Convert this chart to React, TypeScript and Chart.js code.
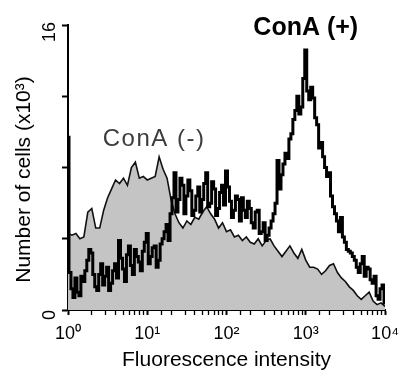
import { useEffect, useRef } from 'react';
import { Chart, registerables } from 'chart.js';

Chart.register(...registerables);

// Channel bin widths, in decades of fluorescence intensity
const BIN_STEP_PLUS = 0.025;
const BIN_STEP_MINUS = 0.05;

// ConA (+) histogram counts (x10^3), one per channel bin from 10^0 to 10^4
const conAPlus = [
  9.7, 2.1, 1.2, 0.7, 1.8, 1.0, 0.8, 1.9, 1.6, 2.2,
  2.8, 3.4, 3.2, 2.0, 1.3, 1.1, 2.0, 2.6, 1.4, 1.9,
  2.4, 1.1, 1.5, 2.2, 2.6, 1.8, 3.9, 2.9, 2.3, 1.6,
  3.1, 3.6, 2.5, 2.0, 3.4, 3.0, 2.7, 2.2, 3.3, 3.8,
  4.3, 2.6, 3.0, 3.5, 3.6, 2.4, 2.8, 3.7, 4.0, 4.4,
  4.8, 3.9, 5.4, 6.3, 7.7, 5.5, 6.2, 7.4, 7.0, 5.4,
  6.4, 7.3, 6.7, 5.3, 5.6, 6.4, 6.9, 5.5, 6.2, 7.1,
  7.7, 5.8, 6.0, 7.2, 6.8, 5.3, 5.7, 6.6, 7.0, 5.9,
  7.8, 6.9, 6.1, 5.2, 5.6, 6.4, 6.2, 5.0, 6.3, 5.6,
  5.2, 6.1, 5.7, 4.9, 4.6, 5.5, 5.6, 4.3, 4.4, 4.9,
  3.9, 4.2, 4.6, 5.0, 5.4, 6.0, 8.4, 6.8, 7.6, 8.2,
  8.8, 8.5, 9.6, 9.9, 10.7, 11.2, 12.0, 11.0, 11.4, 13.0,
  14.6, 12.3, 11.8, 12.5, 11.9, 10.8, 10.4, 9.1, 9.4, 8.6,
  8.0, 7.5, 7.7, 6.4, 5.8, 5.4, 5.0, 4.4, 5.2, 4.1,
  3.8, 3.4, 3.3, 3.2, 3.0, 2.8, 2.4, 2.1, 2.6, 3.0,
  1.9, 2.4, 2.3, 1.7, 1.5, 1.9, 0.8, 0.6, 1.2, 1.4,
  0.4,
];

// ConA (-) histogram counts (x10^3)
const conAMinus = [
  4.3, 4.2, 4.3, 4.0, 4.1, 5.5, 5.7, 4.6, 4.6, 5.6,
  6.3, 6.8, 7.3, 7.1, 7.4, 7.0, 8.0, 8.3, 7.4, 7.5,
  7.3, 7.4, 7.5, 8.6, 7.9, 7.4, 6.2, 5.4, 4.9, 4.6,
  5.0, 4.8, 5.2, 5.1, 5.5, 5.8, 5.4, 5.1, 4.6, 4.9,
  4.4, 4.5, 4.1, 4.2, 3.9, 4.1, 3.8, 3.7, 4.0, 3.6,
  3.9, 4.0, 3.6, 3.3, 3.0, 3.3, 3.6, 3.2, 2.9, 3.4,
  2.8, 2.4, 2.4, 2.3, 2.0, 2.2, 2.5, 2.6, 2.1, 1.8,
  1.6, 1.3, 1.1, 0.8, 0.6, 0.8, 1.0, 0.5, 0.3, 0.4,
  0.2,
];

const xMin = 1;
const xMax = 10000;
const yMin = 0;
const yMax = 16;
const yStep = 4;
const superscripts = ['⁰', '¹', '²', '³', '⁴'];
const yTickLabels = [
  { value: 0, text: '0' },
  { value: 16, text: '16' },
];
const seriesLabels = [
  { text: 'ConA (+)', x: 1000, y: 15.45, bold: true, color: '#000000', size: 25, spacing: 0 },
  { text: 'ConA (-)', x: 12.2, y: 9.2, bold: false, color: '#3c3c3c', size: 24, spacing: 1.5 },
];
const yTitle = 'Number of cells (x10³)';
const xTitle = 'Fluorescence intensity';

const FONT = "'Liberation Sans', Arial, Helvetica, sans-serif";

const toPoints = (vals: number[], step: number) =>
  vals.map((v, i) => ({ x: Math.pow(10, i * step), y: v }));

const textPlugin = {
  id: 'figureText',
  afterDraw(chart: any) {
    const { ctx, scales } = chart;
    const xs = scales.x;
    const ys = scales.y;
    ctx.save();
    ctx.fillStyle = '#000';
    ctx.font = `18px ${FONT}`;
    ctx.textAlign = 'center';
    ctx.textBaseline = 'alphabetic';
    yTickLabels.forEach((t) => {
      const py = ys.getPixelForValue(t.value) + (t.value === yMax ? 7 : 5);
      ctx.save();
      ctx.translate(xs.left - 13, py);
      ctx.rotate(-Math.PI / 2);
      ctx.fillText(t.text, 0, 0);
      ctx.restore();
    });
    ctx.font = `21px ${FONT}`;
    ctx.save();
    ctx.translate(xs.left - 38, (ys.top + ys.bottom) / 2 + 12);
    ctx.rotate(-Math.PI / 2);
    ctx.fillText(yTitle, 0, 0);
    ctx.restore();
    seriesLabels.forEach((l) => {
      ctx.font = `${l.bold ? 'bold ' : ''}${l.size}px ${FONT}`;
      ctx.fillStyle = l.color;
      (ctx as any).letterSpacing = `${l.spacing}px`;
      ctx.fillText(l.text, xs.getPixelForValue(l.x), ys.getPixelForValue(l.y));
    });
    ctx.restore();
  },
};

export default function App() {
  const ref = useRef<HTMLCanvasElement | null>(null);

  useEffect(() => {
    if (!ref.current) return;
    const chart = new Chart(ref.current, {
      type: 'line',
      data: {
        datasets: [
          {
            label: 'ConA (+)',
            data: toPoints(conAPlus, BIN_STEP_PLUS),
            borderColor: '#000000',
            borderWidth: 3,
            stepped: 'middle',
            pointRadius: 0,
            fill: false,
            order: 0,
          },
          {
            label: 'ConA (-)',
            data: toPoints(conAMinus, BIN_STEP_MINUS),
            borderColor: '#111111',
            borderWidth: 1.6,
            backgroundColor: '#c4c4c4',
            pointRadius: 0,
            fill: 'origin',
            tension: 0,
            order: 1,
          },
        ],
      },
      options: {
        animation: false,
        responsive: false,
        events: [],
        layout: { padding: { top: 25, right: 19, left: 0, bottom: 0 } },
        plugins: {
          legend: { display: false },
          tooltip: { enabled: false },
          title: { display: false },
        },
        scales: {
          x: {
            type: 'logarithmic',
            min: xMin,
            max: xMax,
            position: 'bottom',
            afterFit: (s: any) => {
              s.height = 60;
              s.paddingLeft = 0;
              s.paddingRight = 0;
            },
            border: { display: true, color: '#000', width: 2 },
            grid: {
              drawOnChartArea: false,
              drawTicks: true,
              tickLength: 5,
              tickColor: '#000',
              tickWidth: (c: any) => {
                if (!c.tick) return 1.3;
                const p = Math.log10(c.tick.value);
                return Math.abs(p - Math.round(p)) < 1e-6 ? 2 : 1.3;
              },
            },
            ticks: {
              autoSkip: false,
              maxRotation: 0,
              minRotation: 0,
              padding: 8,
              color: '#000',
              font: { size: 18, family: FONT },
              callback: (val: any) => {
                const p = Math.log10(Number(val));
                const r = Math.round(p);
                if (Math.abs(p - r) < 1e-6) return '10' + superscripts[r];
                return '';
              },
            },
            title: {
              display: true,
              text: xTitle,
              color: '#000',
              font: { size: 21, family: FONT, lineHeight: 0.9 },
              padding: 0,
            },
          },
          y: {
            type: 'linear',
            min: yMin,
            max: yMax,
            afterFit: (s: any) => {
              s.width = 68;
              s.paddingTop = 0;
              s.paddingBottom = 0;
            },
            border: { display: true, color: '#000', width: 2 },
            grid: {
              drawOnChartArea: false,
              drawTicks: true,
              tickLength: 6,
              tickColor: '#000',
              tickWidth: 2,
            },
            ticks: { display: false, stepSize: yStep },
          },
        },
      },
      plugins: [textPlugin],
    });
    return () => chart.destroy();
  }, []);

  return (
    <div style={{ position: 'fixed', left: 0, top: 0, width: 404, height: 370, background: '#fff' }}>
      <canvas ref={ref} width={404} height={370} style={{ display: 'block' }} />
    </div>
  );
}
